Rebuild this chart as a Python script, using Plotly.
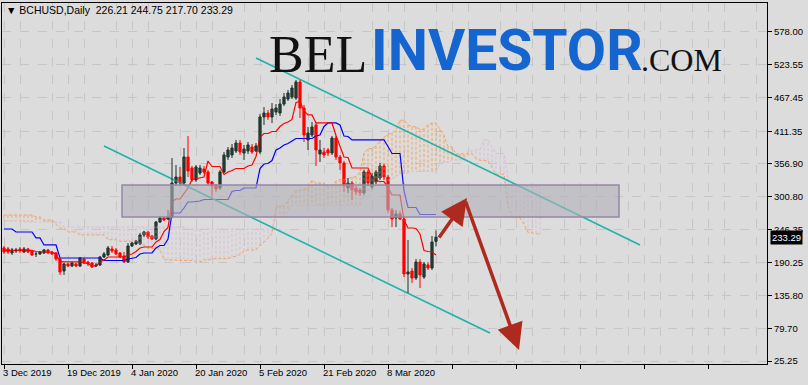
import numpy as np
import pandas as pd
import plotly.graph_objects as go

# ---------------- data ----------------
start_date = "2019-12-03"
opens = [215.2, 213.5, 206.8, 210.1, 213.5, 208.4, 213.5, 210.1, 205.1, 205.1,
         206.8, 211.8, 208.4, 206.8, 196.7, 176.5, 188.3, 184.9, 188.3, 184.9,
         196.7, 191.6, 189.9, 184.9, 186.6, 200.0, 203.4, 213.5, 211.8, 206.8,
         201.7, 191.6, 218.5, 221.9, 221.9, 237.0, 242.0, 235.3, 230.3, 258.8,
         265.5, 263.8, 267.2, 324.3, 334.4, 324.3, 368.0, 349.5, 329.4, 341.1,
         347.8, 342.8, 326.0, 321.0, 315.9, 342.8, 368.0, 371.4, 378.1, 391.5,
         374.7, 378.1, 384.8, 378.1, 376.4, 435.2, 441.9, 435.2, 443.6, 441.9,
         457.0, 465.4, 468.8, 467.1, 494.0, 450.3, 396.6, 405.0, 421.8, 373.0,
         376.4, 379.8, 374.7, 399.9, 368.0, 357.9, 315.9, 324.3, 315.9, 312.6,
         307.5, 342.8, 317.6, 326.0, 332.7, 352.9, 334.4, 279.0, 265.5, 272.3,
         263.8, 171.5, 176.5, 164.7, 191.6, 166.4, 186.6, 181.5, 226.21]
highs = [218.5, 216.8, 215.2, 215.2, 216.8, 216.8, 215.2, 211.8, 208.4, 210.1,
         213.5, 213.5, 210.1, 208.4, 198.3, 189.9, 189.9, 191.6, 189.9, 200.0,
         198.3, 193.3, 191.6, 189.9, 201.7, 208.4, 218.5, 218.5, 215.2, 208.4,
         208.4, 223.5, 225.2, 228.6, 240.3, 243.7, 243.7, 237.0, 260.5, 268.9,
         267.2, 279.0, 366.3, 354.6, 351.2, 383.1, 403.3, 352.9, 354.6, 354.6,
         352.9, 346.2, 327.7, 322.6, 346.2, 376.4, 384.8, 389.8, 396.6, 396.6,
         388.2, 393.2, 389.8, 391.5, 440.2, 452.0, 447.0, 458.7, 457.0, 465.4,
         475.5, 480.6, 489.0, 497.4, 497.4, 455.4, 418.4, 426.8, 426.8, 396.6,
         383.1, 383.1, 403.3, 403.3, 371.4, 361.3, 332.7, 327.7, 319.3, 315.9,
         346.2, 346.2, 341.1, 346.2, 357.9, 356.2, 337.8, 282.3, 279.0, 277.3,
         267.2, 228.6, 181.5, 196.7, 196.7, 191.6, 191.6, 235.3, 244.75]
lows = [205.1, 205.1, 203.4, 206.8, 206.8, 206.8, 206.8, 201.7, 200.0, 203.4,
        205.1, 205.1, 203.4, 193.3, 169.8, 169.8, 183.2, 183.2, 183.2, 183.2,
        188.3, 184.9, 181.5, 183.2, 184.9, 198.3, 201.7, 206.8, 203.4, 198.3,
        189.9, 189.9, 216.8, 220.2, 220.2, 233.6, 230.3, 228.6, 228.6, 257.2,
        260.5, 262.2, 265.5, 319.3, 319.3, 321.0, 334.4, 326.0, 326.0, 337.8,
        339.4, 321.0, 300.8, 309.2, 312.6, 341.1, 363.0, 366.3, 374.7, 371.4,
        363.0, 373.0, 373.0, 376.4, 373.0, 421.8, 430.2, 425.1, 438.6, 436.9,
        453.7, 462.1, 465.4, 463.8, 433.5, 393.2, 379.8, 401.6, 352.9, 359.6,
        366.3, 369.7, 371.4, 363.0, 346.2, 309.2, 307.5, 295.8, 304.2, 302.5,
        304.2, 319.3, 314.3, 322.6, 329.4, 329.4, 273.9, 250.4, 250.4, 262.2,
        166.4, 139.5, 156.3, 161.4, 148.0, 163.1, 178.2, 178.2, 217.70]
closes = [208.4, 208.4, 211.8, 211.8, 210.1, 213.5, 208.4, 203.4, 205.1, 208.4,
          211.8, 206.8, 205.1, 196.7, 174.8, 188.3, 184.9, 189.9, 184.9, 198.3,
          189.9, 188.3, 183.2, 186.6, 200.0, 205.1, 215.2, 210.1, 205.1, 200.0,
          191.6, 218.5, 223.5, 226.9, 237.0, 242.0, 233.6, 230.3, 258.8, 265.5,
          262.2, 267.2, 324.3, 334.4, 324.3, 368.0, 344.5, 329.4, 351.2, 349.5,
          342.8, 324.3, 319.3, 314.3, 342.8, 371.4, 379.8, 383.1, 391.5, 376.4,
          381.4, 388.2, 376.4, 386.5, 435.2, 441.9, 435.2, 448.6, 450.3, 457.0,
          468.8, 475.5, 483.9, 494.0, 450.3, 405.0, 408.3, 418.4, 379.8, 379.8,
          371.4, 374.7, 399.9, 368.0, 357.9, 319.3, 324.3, 312.6, 309.2, 307.5,
          342.8, 324.3, 336.1, 342.8, 352.9, 334.4, 279.0, 263.8, 272.3, 263.8,
          171.5, 174.8, 164.7, 191.6, 169.8, 188.3, 181.5, 225.2, 233.29]

# Ichimoku values before enough history exists on the chart
tenkan_early = [211.0, 211.0, 211.0, 211.0, 211.0, 211.0, 211.0, 211.0]
kijun_early = [247.0, 247.0, 247.0, 242.0, 242.0, 242.0, 242.0, 242.0, 232.0, 232.0,
               220.2, 220.2, 220.2, 220.2, 198.3, 198.3, 198.3, 198.3, 198.3, 198.3,
               198.3, 198.3, 198.3, 198.3, 198.3]
span_a_early = [270.6, 270.6, 270.6, 270.6, 270.6, 270.6, 270.6, 270.6, 267.2, 267.2,
                262.2, 262.2, 262.2, 255.0, 248.0, 248.0, 242.0, 242.0, 242.0, 237.0,
                237.0, 237.0, 237.0, 237.0, 237.0, 237.0]
span_b_early = [260.5, 260.5, 260.5, 260.5, 260.5, 258.8, 258.8, 258.8, 258.8, 258.8,
                258.8, 258.8, 258.8, 258.8, 258.8, 250.4, 250.4, 250.4, 250.4, 250.4,
                250.4, 250.4, 250.4, 250.4, 250.4, 250.4, 250.4, 250.4, 250.4, 250.4,
                250.4, 250.4, 250.4, 250.4, 250.4, 250.4, 250.4, 250.4, 250.4, 250.4,
                250.4, 250.4, 250.4, 250.4, 250.4, 250.4, 247.0, 247.0, 247.0, 247.0,
                247.0, 247.0, 247.0, 247.0, 247.0, 247.0, 247.0, 247.0, 247.0, 247.0,
                247.0, 247.0, 247.0, 247.0, 247.0, 247.0, 247.0, 247.0]

# y axis labels
ytick_vals = [25.25, 79.70, 135.80, 190.25, 246.35, 300.80, 356.90, 411.35, 467.45, 523.55, 578.00]
xlabel_dates = ["2019-12-03", "2019-12-19", "2020-01-04", "2020-01-20", "2020-02-05", "2020-02-21", "2020-03-08"]

# analyst drawings (time / price)
zone_dates = ["2020-01-01 12:00", "2020-05-04 18:00"]
zone_prices = [267.2, 321.0]
upper_line_dates = ["2020-02-04", "2020-05-10"]
upper_line_prices = [534.3, 220.2]
lower_line_dates = ["2019-12-28", "2020-04-02 12:00"]
lower_line_prices = [386.5, 72.3]
arrow1_dates = ["2020-03-20 12:00", "2020-03-27 18:00"]
arrow1_prices = [230.2, 299.1]
arrow2_dates = ["2020-03-27 06:00", "2020-04-09 18:00"]
arrow2_prices = [295.8, 43.8]

# ---------------- derived ----------------
n = len(opens)
dates = pd.date_range(start_date, periods=n, freq="D")
cloud_dates = pd.date_range(start_date, periods=n + 26, freq="D")
H = np.array(highs)
L = np.array(lows)
O = np.array(opens)
C = np.array(closes)

tenkan = np.array(tenkan_early + [(H[i - 8:i + 1].max() + L[i - 8:i + 1].min()) / 2 for i in range(8, n)])
kijun = np.array(kijun_early + [(H[i - 25:i + 1].max() + L[i - 25:i + 1].min()) / 2 for i in range(25, n)])
span_a = np.array(span_a_early + list((tenkan + kijun) / 2))
span_b = np.array(span_b_early + [(H[max(0, t - 77):t - 25].max() + L[max(0, t - 77):t - 25].min()) / 2
                                  for t in range(len(span_b_early), n + 26)])

fig = go.Figure()

# cloud hatch
SANDY = "#F4A460"
THISTLE = "#D8BFD8"
for col, cond in ((SANDY, span_a >= span_b), (THISTLE, span_a < span_b)):
    xs, ys = [], []
    for t in np.where(cond)[0]:
        xs += [cloud_dates[t], cloud_dates[t], None]
        ys += [span_a[t], span_b[t], None]
    fig.add_trace(go.Scatter(x=xs, y=ys, mode="lines", line=dict(color=col, width=1, dash="3px,2px"),
                             hoverinfo="skip"))
fig.add_trace(go.Scatter(x=cloud_dates, y=span_a, mode="lines", line=dict(color=SANDY, width=1, dash="3px,2px")))
fig.add_trace(go.Scatter(x=cloud_dates, y=span_b, mode="lines", line=dict(color=THISTLE, width=1, dash="3px,2px")))

# tenkan / kijun
fig.add_trace(go.Scatter(x=dates, y=kijun, mode="lines", line=dict(color="#0000FF", width=1.2)))
fig.add_trace(go.Scatter(x=dates, y=tenkan, mode="lines", line=dict(color="#FF0000", width=1.2)))

# channel lines
fig.add_trace(go.Scatter(x=upper_line_dates, y=upper_line_prices, mode="lines",
                         line=dict(color="#20B2AA", width=1.6)))
fig.add_trace(go.Scatter(x=lower_line_dates, y=lower_line_prices, mode="lines",
                         line=dict(color="#20B2AA", width=1.6)))

# candles
up = C >= O
DAY_MS = 86400000
for mask, fill, edge in ((up, "#2F5548", "#1C3029"), (~up, "#FF0000", "#FF0000")):
    wx, wy = [], []
    for i in np.where(mask)[0]:
        wx += [dates[i], dates[i], None]
        wy += [L[i], H[i], None]
    fig.add_trace(go.Scatter(x=wx, y=wy, mode="lines", line=dict(color=edge, width=1)))
    bot = np.minimum(O, C)[mask]
    top = np.maximum(O, C)[mask]
    fig.add_trace(go.Bar(x=dates[mask], y=top - bot, base=bot, width=0.55 * DAY_MS,
                         marker=dict(color=fill, line=dict(color=edge, width=1))))

# ---------------- layout ----------------
X0_PX, X1_PX, Y0_PX, Y1_PX = 2, 767, 3, 364


def pxx(px):
    return (px - X0_PX) / (X1_PX - X0_PX)


def pxy(py):
    return (Y1_PX - py) / (Y1_PX - Y0_PX)


GRID = "#c6c6c6"
AXFONT = dict(family="Liberation Sans, Arial, sans-serif", size=9.5, color="black")
fig.update_layout(
    width=808, height=385,
    margin=dict(l=X0_PX, r=808 - X1_PX, t=Y0_PX, b=385 - Y1_PX, autoexpand=False),
    paper_bgcolor="#dcdcdc", plot_bgcolor="#dcdcdc",
    showlegend=False, barmode="overlay",
    xaxis=dict(type="date", range=["2019-12-02 12:00", "2020-06-10 18:00"], automargin=False,
               tick0="2019-12-03", dtick=16 * DAY_MS, ticks="outside", ticklen=4, tickcolor="black",
               showticklabels=False, showgrid=True, gridcolor=GRID, griddash="dash",
               minor=dict(dtick=8 * DAY_MS, showgrid=True, gridcolor=GRID, griddash="dash"),
               showline=True, linecolor="black", linewidth=1, mirror=True, zeroline=False),
    yaxis=dict(side="right", range=[20.24, 626.7], tickvals=ytick_vals, automargin=False,
               ticktext=[f"{v:.2f}" for v in ytick_vals], ticks="outside", ticklen=4, tickcolor="black",
               showgrid=True, gridcolor=GRID, griddash="dash",
               showline=True, linecolor="black", linewidth=1, mirror=True, zeroline=False,
               tickfont=AXFONT),
)

# zone rectangle (on top)
fig.add_shape(type="rect", x0=zone_dates[0], x1=zone_dates[1], y0=zone_prices[0], y1=zone_prices[1],
              xref="x", yref="y", layer="above",
              fillcolor="rgba(176,176,184,0.62)", line=dict(color="#9685a6", width=1.5))

# arrows
for ad, ap in ((arrow1_dates, arrow1_prices), (arrow2_dates, arrow2_prices)):
    fig.add_annotation(x=ad[1], y=ap[1], ax=ad[0], ay=ap[0], xref="x", yref="y", axref="x", ayref="y",
                       text="", showarrow=True, arrowhead=2, arrowsize=1.5, arrowwidth=3.5,
                       arrowcolor="#AE2A1E", standoff=0)

# x labels (left aligned like the terminal)
for d in xlabel_dates:
    ts = pd.Timestamp(d)
    fig.add_annotation(x=d, y=0, xref="x", yref="paper", yanchor="top", xanchor="left",
                       text=f"{ts.day} {ts.strftime('%b %Y')}", showarrow=False, yshift=-1, xshift=-3,
                       font=AXFONT)

# title
fig.add_annotation(x=pxx(4), y=pxy(10), xref="paper", yref="paper", xanchor="left", yanchor="middle",
                   text=f"▼ BCHUSD,Daily  {opens[-1]:.2f} {highs[-1]:.2f} {lows[-1]:.2f} {closes[-1]:.2f}",
                   showarrow=False, font=dict(family="Liberation Sans, DejaVu Sans", size=10.5, color="black"))

# last price box
fig.add_annotation(x=1, y=closes[-1], xref="paper", yref="y", xanchor="left", yanchor="middle",
                   text=f"{closes[-1]:.2f}", showarrow=False, xshift=3, bgcolor="black", borderpad=1,
                   font=dict(family="Liberation Sans, Arial, sans-serif", size=9.5, color="white"))

# watermark logo
fig.add_annotation(x=pxx(267), y=pxy(85), xref="paper", yref="paper", xanchor="left", yanchor="bottom",
                   text="BEL", showarrow=False, font=dict(family="Liberation Serif", size=52, color="#111111"))
fig.add_annotation(x=pxx(369), y=pxy(86), xref="paper", yref="paper", xanchor="left", yanchor="bottom",
                   text="<b>INVESTOR</b>", showarrow=False,
                   font=dict(family="Roboto", size=57, color="#1565d0"))
fig.add_annotation(x=pxx(639), y=pxy(80), xref="paper", yref="paper", xanchor="left", yanchor="bottom",
                   text=".COM", showarrow=False, font=dict(family="Liberation Serif", size=32, color="#111111"))

fig.write_html("out.html")
